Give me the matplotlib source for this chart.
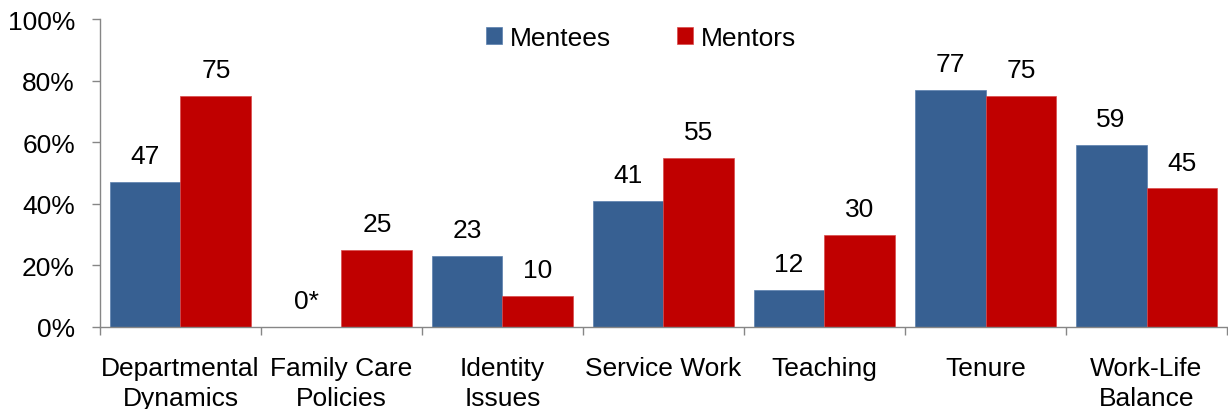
import numpy as np
import matplotlib.pyplot as plt
from matplotlib.ticker import FixedLocator, PercentFormatter

categories = ["Departmental\nDynamics", "Family Care\nPolicies", "Identity\nIssues",
              "Service Work", "Teaching", "Tenure", "Work-Life\nBalance"]
mentees = [47, 0, 23, 41, 12, 77, 59]
mentors = [75, 25, 10, 55, 30, 75, 45]
mentee_labels = ["47", "0*", "23", "41", "12", "77", "59"]
mentor_labels = ["75", "25", "10", "55", "30", "75", "45"]

plt.rcParams['font.family'] = ['Liberation Sans', 'DejaVu Sans']
plt.rcParams['font.size'] = 19

blue = '#376092'
red = '#C00000'
grey = '#868686'

fig = plt.figure(figsize=(12.28, 4.10), dpi=100)
ax = fig.add_axes([0.0814, 0.2, 0.9178, 0.751])

x = np.arange(len(categories))
w = 0.44
b1 = ax.bar(x - w/2, mentees, w, color=blue, label='Mentees', edgecolor='#5a7fae', linewidth=0.5)
b2 = ax.bar(x + w/2, mentors, w, color=red, label='Mentors', edgecolor='#d94a4a', linewidth=0.5)

for rect, lab in zip(b1, mentee_labels):
    ax.annotate(lab, (rect.get_x() + rect.get_width()/2, rect.get_height()),
                xytext=(0, 10), textcoords='offset points', ha='center', va='bottom')
for rect, lab in zip(b2, mentor_labels):
    ax.annotate(lab, (rect.get_x() + rect.get_width()/2, rect.get_height()),
                xytext=(0, 10), textcoords='offset points', ha='center', va='bottom')

ax.set_xlim(-0.5, len(categories) - 0.5)
ax.set_ylim(0, 100)
ax.set_yticks(np.arange(0, 101, 20))
ax.yaxis.set_major_formatter(PercentFormatter(decimals=0))

ax.set_xticks(x)
ax.set_xticklabels(categories, linespacing=1.3)
ax.xaxis.set_minor_locator(FixedLocator(np.arange(-0.5, len(categories), 1.0)))
ax.tick_params(axis='x', which='major', length=0, pad=21)
ax.tick_params(axis='x', which='minor', length=6, color=grey, width=1)
ax.tick_params(axis='y', length=6, color=grey, width=1, pad=12)

for s in ['top', 'right']:
    ax.spines[s].set_visible(False)
for s in ['left', 'bottom']:
    ax.spines[s].set_color(grey)
    ax.spines[s].set_linewidth(1)

ax.legend(loc='upper center', bbox_to_anchor=(0.48, 1.056), ncol=2, frameon=False,
          handlelength=0.6, handleheight=0.6, handletextpad=0.3, columnspacing=2.5)

fig.savefig('out.png', dpi=100)
